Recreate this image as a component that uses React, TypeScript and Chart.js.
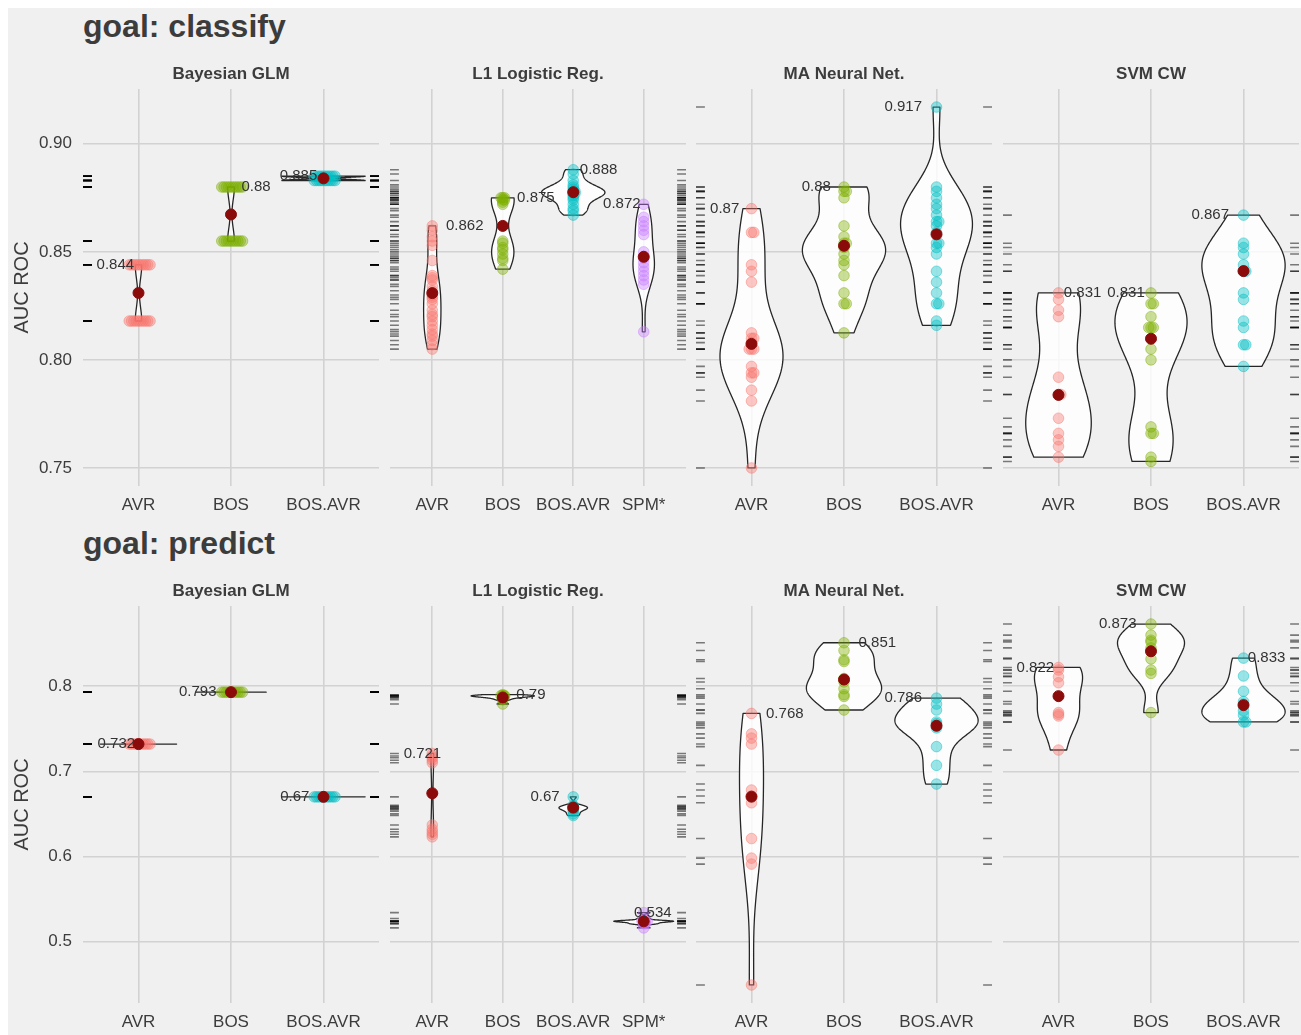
import React, { useEffect, useRef } from "react";
import { Chart, registerables } from "chart.js";

Chart.register(...registerables);

// ---------------- DATA ----------------
const GOALS = ["goal: classify", "goal: predict"];
const MODELS = ["Bayesian GLM", "L1 Logistic Reg.", "MA Neural Net.", "SVM CW"];
const CATS3 = ["AVR", "BOS", "BOS.AVR"];
const CATS4 = ["AVR", "BOS", "BOS.AVR", "SPM*"];
const Y_TICKS_CLASSIFY = [0.75, 0.8, 0.85, 0.9];
const Y_TICKS_PREDICT = [0.5, 0.6, 0.7, 0.8];

// goal: classify
const cGlmAvr = [0.844, 0.844, 0.844, 0.844, 0.844, 0.844, 0.844, 0.844, 0.844, 0.844, 0.818, 0.818, 0.818, 0.818, 0.818, 0.818, 0.818, 0.818, 0.818, 0.818];
const cGlmBos = [0.88, 0.88, 0.88, 0.88, 0.88, 0.88, 0.88, 0.88, 0.88, 0.88, 0.855, 0.855, 0.855, 0.855, 0.855, 0.855, 0.855, 0.855, 0.855, 0.855];
const cGlmBosAvr = [0.885, 0.885, 0.885, 0.885, 0.885, 0.885, 0.885, 0.885, 0.885, 0.885, 0.883, 0.883, 0.883, 0.883, 0.883, 0.883, 0.883, 0.883, 0.883, 0.883];
const cL1Avr = [0.862, 0.86, 0.857, 0.855, 0.853, 0.846, 0.839, 0.838, 0.837, 0.834, 0.832, 0.83, 0.829, 0.828, 0.826, 0.823, 0.821, 0.82, 0.818, 0.816, 0.814, 0.812, 0.811, 0.809, 0.807, 0.805];
const cL1Bos = [0.875, 0.875, 0.875, 0.874, 0.874, 0.873, 0.872, 0.855, 0.854, 0.852, 0.851, 0.849, 0.847, 0.846, 0.842];
const cL1BosAvr = [0.888, 0.886, 0.883, 0.881, 0.88, 0.879, 0.878, 0.878, 0.877, 0.877, 0.876, 0.875, 0.874, 0.872, 0.87, 0.869, 0.867];
const cL1Spm = [0.872, 0.866, 0.864, 0.862, 0.86, 0.858, 0.85, 0.848, 0.847, 0.845, 0.843, 0.841, 0.839, 0.837, 0.835, 0.813];
const cMaAvr = [0.87, 0.859, 0.859, 0.844, 0.841, 0.836, 0.8125, 0.81, 0.81, 0.808, 0.805, 0.805, 0.805, 0.797, 0.794, 0.794, 0.792, 0.786, 0.781, 0.75];
const cMaBos = [0.88, 0.878, 0.878, 0.875, 0.862, 0.857, 0.854, 0.854, 0.852, 0.849, 0.846, 0.844, 0.839, 0.831, 0.826, 0.826, 0.8125];
const cMaBosAvr = [0.917, 0.88, 0.878, 0.875, 0.872, 0.87, 0.867, 0.864, 0.864, 0.862, 0.859, 0.854, 0.854, 0.852, 0.849, 0.841, 0.836, 0.831, 0.826, 0.826, 0.818, 0.816];
const cSvmAvr = [0.831, 0.828, 0.823, 0.82, 0.792, 0.784, 0.784, 0.773, 0.766, 0.763, 0.76, 0.755];
const cSvmBos = [0.831, 0.826, 0.826, 0.82, 0.815, 0.815, 0.815, 0.805, 0.8, 0.769, 0.766, 0.766, 0.755, 0.753];
const cSvmBosAvr = [0.867, 0.854, 0.852, 0.849, 0.844, 0.841, 0.841, 0.831, 0.828, 0.818, 0.815, 0.807, 0.807, 0.797];

// goal: predict
const pGlmAvr = [0.732, 0.732, 0.732, 0.732, 0.732, 0.732, 0.732, 0.732, 0.732, 0.732];
const pGlmBos = [0.793, 0.793, 0.793, 0.793, 0.793, 0.793, 0.793, 0.793, 0.793, 0.793];
const pGlmBosAvr = [0.67, 0.67, 0.67, 0.67, 0.67, 0.67, 0.67, 0.67, 0.67, 0.67];
const pL1Avr = [0.721, 0.718, 0.716, 0.713, 0.71, 0.637, 0.632, 0.629, 0.626, 0.623];
const pL1Bos = [0.79, 0.789, 0.789, 0.789, 0.788, 0.788, 0.787, 0.786, 0.784, 0.779];
const pL1BosAvr = [0.67, 0.66, 0.659, 0.658, 0.657, 0.656, 0.655, 0.653, 0.65, 0.648];
const pL1Spm = [0.534, 0.527, 0.524, 0.524, 0.524, 0.524, 0.523, 0.521, 0.521, 0.516];
const pMaAvr = [0.768, 0.744, 0.739, 0.732, 0.678, 0.671, 0.663, 0.621, 0.598, 0.591, 0.449];
const pMaBos = [0.851, 0.842, 0.831, 0.829, 0.809, 0.805, 0.797, 0.79, 0.788, 0.772];
const pMaBosAvr = [0.786, 0.779, 0.772, 0.758, 0.756, 0.754, 0.751, 0.729, 0.707, 0.685];
const pSvmAvr = [0.822, 0.819, 0.811, 0.804, 0.769, 0.767, 0.765, 0.725];
const pSvmBos = [0.873, 0.86, 0.854, 0.852, 0.845, 0.832, 0.819, 0.815, 0.769];
const pSvmBosAvr = [0.833, 0.812, 0.794, 0.782, 0.779, 0.771, 0.766, 0.758, 0.758];

// group means (dark red dots)
const cMeans = [[0.831, 0.8673, 0.884], [0.8309, 0.862, 0.8776, 0.8477], [0.8074, 0.8528, 0.8581], [0.7838, 0.8098, 0.8411]];
const pMeans = [[0.732, 0.793, 0.67], [0.6742, 0.7867, 0.6574, 0.5237], [0.6702, 0.8078, 0.7535], [0.7883, 0.841, 0.7777]];

// label nudges (category units) for the max-value labels
const cNudges = [[-0.25, 0.27, -0.27], [0.46, 0.47, 0.36, -0.31], [-0.29, -0.3, -0.36], [0.26, -0.27, -0.36]];
const pNudges = [[-0.24, -0.36, -0.31], [-0.14, 0.4, -0.4, 0.13], [0.36, 0.36, -0.36], [-0.25, -0.36, 0.25]];

const cGroups = [
  [cGlmAvr, cGlmBos, cGlmBosAvr],
  [cL1Avr, cL1Bos, cL1BosAvr, cL1Spm],
  [cMaAvr, cMaBos, cMaBosAvr],
  [cSvmAvr, cSvmBos, cSvmBosAvr],
];
const pGroups = [
  [pGlmAvr, pGlmBos, pGlmBosAvr],
  [pL1Avr, pL1Bos, pL1BosAvr, pL1Spm],
  [pMaAvr, pMaBos, pMaBosAvr],
  [pSvmAvr, pSvmBos, pSvmBosAvr],
];
const PANEL_CATS = [CATS3, CATS4, CATS3, CATS3];

// ---------------- STYLE / LAYOUT ----------------
const FONT = "'Liberation Sans', Arial, Helvetica, sans-serif";
const TEXT = "#3C3C3C";
const GRID = "#D2D2D2";
const BG = "#F0F0F0";
const COLORS: Record<string, string> = {
  AVR: "248,118,109",
  BOS: "124,174,0",
  "BOS.AVR": "0,191,196",
  "SPM*": "199,124,255",
};
const PANEL_W = 296;
const PANEL_LEFTS = [75, 382, 688, 995];
const Y_AXIS_W = 75;
const STRIP_H = 36;
const PLOT_H = 397;
const XAXIS_H = 45;
const ROW_CANVAS_TOPS = [45, 562];
const TITLE_SIZE = 32;
const TITLE_BASELINES = [29.3, 546.3];
const TICK_SIZE = 17;

// ---------------- STATS ----------------
function q7(s: number[], p: number) {
  const h = (s.length - 1) * p;
  const lo = Math.floor(h);
  const hi = Math.min(lo + 1, s.length - 1);
  return s[lo] + (h - lo) * (s[hi] - s[lo]);
}
function bwNrd0(x: number[]) {
  const n = x.length;
  const s = [...x].sort((a, b) => a - b);
  let sd = 0;
  if (s[n - 1] - s[0] > 1e-12) {
    const m = x.reduce((a, b) => a + b, 0) / n;
    sd = Math.sqrt(x.reduce((a, b) => a + (b - m) * (b - m), 0) / (n - 1));
  }
  const iqr = s[n - 1] - s[0] > 1e-12 ? q7(s, 0.75) - q7(s, 0.25) : 0;
  let lo = Math.min(sd, iqr / 1.34);
  if (!(lo > 0)) lo = sd > 0 ? sd : Math.abs(x[0]) || 1;
  return 0.9 * lo * Math.pow(n, -0.2);
}
function density(x: number[], N = 160) {
  const bw = bwNrd0(x);
  const mn = Math.min(...x);
  const mx = Math.max(...x);
  const ys: number[] = [];
  const ds: number[] = [];
  const c = 1 / (x.length * bw * Math.sqrt(2 * Math.PI));
  for (let j = 0; j < N; j++) {
    const y = mn + ((mx - mn) * j) / (N - 1);
    let d = 0;
    for (const xi of x) {
      const u = (y - xi) / bw;
      d += Math.exp(-0.5 * u * u);
    }
    ys.push(y);
    ds.push(d * c);
  }
  return { ys, ds };
}
function fmt(v: number) {
  return String(Number(v.toFixed(3)));
}

// ---------------- PANEL ----------------
type Spec = {
  row: number;
  col: number;
  cats: string[];
  groups: number[][];
  means: number[];
  nudges: number[];
  yMin: number;
  yMax: number;
  yTicks: number[];
  yDec: number;
};

function makePlugin(spec: Spec) {
  const dens = spec.groups.map((g) => density(g));
  const maxD = Math.max(...dens.map((d) => Math.max(...d.ds)));
  return {
    id: "panelDecor" + spec.row + spec.col,
    beforeDatasetsDraw(chart: any) {
      const { ctx, chartArea } = chart;
      const xs = chart.scales.x;
      const ys = chart.scales.y;
      ctx.save();
      // rug (left and right sides)
      const xmin = xs.min, xmax = xs.max;
      const rl = xs.getPixelForValue(xmin + 0.03 * (xmax - xmin));
      const rr = xs.getPixelForValue(xmax - 0.03 * (xmax - xmin));
      ctx.strokeStyle = "rgba(0,0,0,0.5)";
      ctx.lineWidth = 1.6;
      for (const g of spec.groups) {
        for (const v of g) {
          const py = ys.getPixelForValue(v);
          ctx.beginPath();
          ctx.moveTo(chartArea.left, py);
          ctx.lineTo(rl, py);
          ctx.moveTo(rr, py);
          ctx.lineTo(chartArea.right, py);
          ctx.stroke();
        }
      }
      // violins
      dens.forEach((d, i) => {
        const xc = i + 1;
        ctx.beginPath();
        for (let j = 0; j < d.ys.length; j++) {
          const hw = (0.45 * d.ds[j]) / maxD;
          const px = xs.getPixelForValue(xc - hw);
          const py = ys.getPixelForValue(d.ys[j]);
          if (j === 0) ctx.moveTo(px, py);
          else ctx.lineTo(px, py);
        }
        for (let j = d.ys.length - 1; j >= 0; j--) {
          const hw = (0.45 * d.ds[j]) / maxD;
          ctx.lineTo(xs.getPixelForValue(xc + hw), ys.getPixelForValue(d.ys[j]));
        }
        ctx.closePath();
        ctx.fillStyle = "rgba(255,255,255,0.82)";
        ctx.fill();
        ctx.strokeStyle = "#262626";
        ctx.lineWidth = 1.3;
        ctx.lineJoin = "round";
        ctx.stroke();
      });
      ctx.restore();
    },
    afterDatasetsDraw(chart: any) {
      const { ctx } = chart;
      const xs = chart.scales.x;
      const ys = chart.scales.y;
      ctx.save();
      ctx.font = `15px ${FONT}`;
      ctx.fillStyle = "#333333";
      ctx.textAlign = "center";
      ctx.textBaseline = "middle";
      spec.groups.forEach((g, i) => {
        const mx = Math.max(...g);
        ctx.fillText(fmt(mx), xs.getPixelForValue(i + 1 + spec.nudges[i]), ys.getPixelForValue(mx));
      });
      ctx.restore();
    },
    afterDraw(chart: any) {
      const { ctx, chartArea } = chart;
      ctx.save();
      ctx.font = `bold 17px ${FONT}`;
      ctx.fillStyle = TEXT;
      ctx.textAlign = "center";
      ctx.textBaseline = "alphabetic";
      ctx.fillText(MODELS[spec.col], (chartArea.left + chartArea.right) / 2, chartArea.top - 10.5);
      ctx.restore();
    },
  };
}

function Panel({ spec }: { spec: Spec }) {
  const ref = useRef<HTMLCanvasElement>(null);
  const first = spec.col === 0;
  const width = PANEL_W + (first ? Y_AXIS_W : 0);
  const height = STRIP_H + PLOT_H + XAXIS_H;
  const left = PANEL_LEFTS[spec.col] - (first ? Y_AXIS_W : 0);
  const top = ROW_CANVAS_TOPS[spec.row];

  useEffect(() => {
    const n = spec.cats.length;
    const pointSets = spec.groups.map((g, i) => {
      const seen: Record<string, number> = {};
      const data = g.map((v) => {
        const k = (seen[v] = (seen[v] ?? -1) + 1);
        const off = k === 0 ? 0 : 0.025 * Math.ceil(k / 2) * (k % 2 ? 1 : -1);
        return { x: i + 1 + off, y: v };
      });
      const c = COLORS[spec.cats[i]];
      return {
        label: spec.cats[i],
        data,
        backgroundColor: `rgba(${c},0.4)`,
        borderColor: `rgba(${c},0.45)`,
        borderWidth: 1,
        pointRadius: 5.3,
        order: 1,
      };
    });
    const meanSet = {
      label: "mean",
      data: spec.means.map((m, i) => ({ x: i + 1, y: m })),
      backgroundColor: "#8B0A0A",
      borderColor: "#8B0A0A",
      borderWidth: 1,
      pointRadius: 5.5,
      order: 0,
    };
    const chart = new Chart(ref.current as HTMLCanvasElement, {
      type: "scatter",
      data: { datasets: [meanSet, ...pointSets] as any },
      options: {
        animation: false,
        responsive: false,
        devicePixelRatio: 1,
        events: [],
        layout: { autoPadding: false, padding: { top: STRIP_H, left: 0, right: 0, bottom: 0 } },
        plugins: {
          legend: { display: false },
          tooltip: { enabled: false },
          title: { display: false },
        },
        scales: {
          x: {
            type: "linear",
            min: 0.4,
            max: n + 0.6,
            afterBuildTicks: (s: any) => {
              s.ticks = spec.cats.map((_, i) => ({ value: i + 1 }));
            },
            afterFit: (s: any) => {
              s.height = XAXIS_H;
            },
            grid: { color: GRID, lineWidth: 1.6, drawTicks: false },
            border: { display: false },
            ticks: {
              callback: (_v: any, i: number) => spec.cats[i],
              font: { family: FONT, size: TICK_SIZE },
              color: TEXT,
              padding: 9,
              autoSkip: false,
              maxRotation: 0,
            },
          },
          y: {
            type: "linear",
            min: spec.yMin,
            max: spec.yMax,
            afterBuildTicks: (s: any) => {
              s.ticks = spec.yTicks.map((v) => ({ value: v }));
            },
            afterFit: (s: any) => {
              s.width = first ? Y_AXIS_W : 0;
            },
            grid: { color: GRID, lineWidth: 1.6, drawTicks: false },
            border: { display: false },
            ticks: {
              display: first,
              callback: (v: any) => Number(v).toFixed(spec.yDec),
              font: { family: FONT, size: TICK_SIZE },
              color: TEXT,
              padding: 11,
            },
            title: {
              display: first,
              text: "AUC ROC",
              font: { family: FONT, size: 20 },
              color: TEXT,
              padding: { top: 2, bottom: 0 },
            },
          },
        },
      } as any,
      plugins: [makePlugin(spec)],
    });
    return () => chart.destroy();
  }, []);

  return (
    <canvas
      ref={ref}
      width={width}
      height={height}
      style={{ position: "absolute", left, top, width, height }}
    />
  );
}

function buildSpecs(): Spec[] {
  const specs: Spec[] = [];
  [cGroups, pGroups].forEach((rowGroups, row) => {
    const all = rowGroups.flat(2);
    const mn = Math.min(...all);
    const mx = Math.max(...all);
    const pad = 0.05 * (mx - mn);
    rowGroups.forEach((groups, col) => {
      specs.push({
        row,
        col,
        cats: PANEL_CATS[col],
        groups,
        means: (row === 0 ? cMeans : pMeans)[col],
        nudges: (row === 0 ? cNudges : pNudges)[col],
        yMin: mn - pad,
        yMax: mx + pad,
        yTicks: row === 0 ? Y_TICKS_CLASSIFY : Y_TICKS_PREDICT,
        yDec: row === 0 ? 2 : 1,
      });
    });
  });
  return specs;
}

export default function App() {
  const specs = buildSpecs();
  return (
    <div
      style={{
        position: "fixed",
        left: 8,
        top: 8,
        right: 0,
        bottom: 0,
        background: BG,
        overflow: "hidden",
        fontFamily: FONT,
      }}
    >
      {GOALS.map((g, i) => (
        <div
          key={g}
          style={{
            position: "absolute",
            left: 75,
            top: TITLE_BASELINES[i] - 0.8465 * TITLE_SIZE,
            fontSize: TITLE_SIZE,
            lineHeight: `${TITLE_SIZE}px`,
            fontWeight: "bold",
            color: TEXT,
            whiteSpace: "nowrap",
          }}
        >
          {g}
        </div>
      ))}
      {specs.map((s) => (
        <Panel key={`${s.row}-${s.col}`} spec={s} />
      ))}
    </div>
  );
}
